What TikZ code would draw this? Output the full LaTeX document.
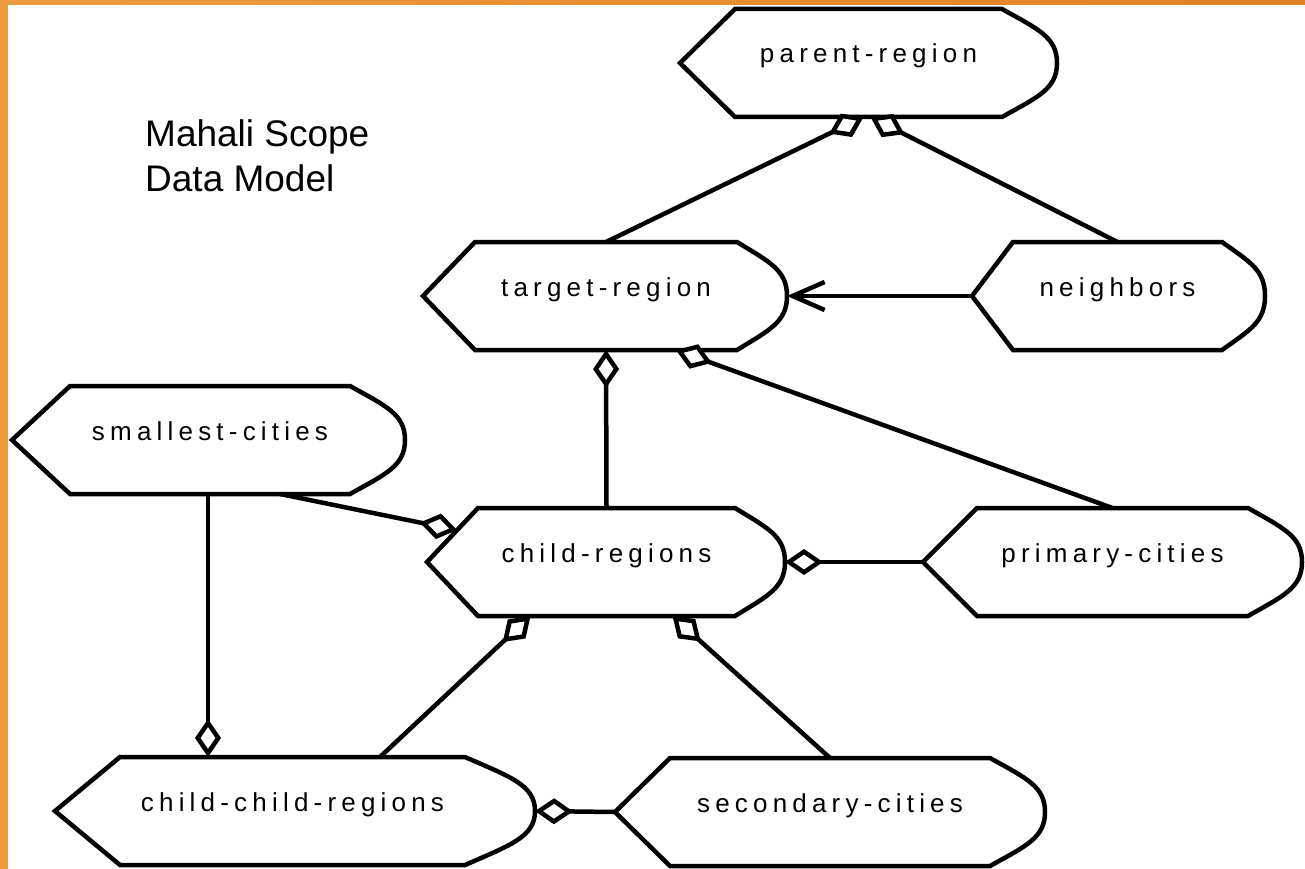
\documentclass[tikz,border=0pt]{standalone}
\usepackage{fontspec}
\setmainfont{Liberation Sans}
\newfontfamily\lblfont[LetterSpace=20]{Liberation Sans}
\usetikzlibrary{arrows.meta,calc}
\definecolor{orangeL}{RGB}{237,156,64}
\definecolor{orangeR}{RGB}{224,129,33}
\tikzset{
  outline/.style={draw=black, line width=4.5pt, line join=miter, fill=white},
  entbox/.style={draw=none, minimum height=108pt, inner sep=0pt, outer sep=0pt},
  lbl/.style={anchor=base, inner sep=0pt, font=\lblfont\fontsize{26}{31}\selectfont},
  conn/.style={draw=black, line width=4.5pt},
  agg/.style={conn, -{Diamond[length=38pt,width=26pt,fill=white]}},
  nav/.style={conn, -{Straight Barb[length=32pt,width=28pt]}},
  ttl/.style={anchor=base west, inner sep=0pt, font=\fontsize{37}{44}\selectfont}
}
% #1 name, #2 x left corner, #3 x right corner, #4 y centre, #5 left offset, #6 right offset, #7 text
\newcommand\mkentity[7]{%
  \node[entbox, minimum width={(#3-#2)*1pt}] (#1) at ({(#2+#3)/2},#4) {};
  \coordinate (#1-L) at ($(#1.west)+(-#5,0)$);
  \coordinate (#1-R) at ($(#1.east)+(#6,0)$);
  \draw[outline] (#1-L) -- (#1.north west) -- (#1.north east)
     .. controls +({0.65*#6},20) and +(0,-26) .. (#1-R)
     .. controls +(0,26) and +({0.65*#6},-20) .. (#1.south east)
     -- (#1.south west) -- cycle;
  \node[lbl] (#1-t) at (#1.center) {#7};
}
\begin{document}
\begin{tikzpicture}[x=1pt,y=-1pt]
\useasboundingbox (0,0) rectangle (1305,869);
\fill[white] (0,0) rectangle (1305,869);
\fill[orangeL] (0,0) rectangle (8,869);
\shade[left color=orangeL, right color=orangeR] (0,0) rectangle (1305,5);

\node[ttl] (t1) at (145,147) {Mahali Scope};
\node[ttl] (t2) at (145,192) {Data Model};

\mkentity{pr}{735}{1002}{63}{55}{55}{parent-region}
\mkentity{tr}{475}{737}{296}{52}{50}{target-region}
\mkentity{nb}{1013}{1222}{296}{41}{43}{neighbors}
\mkentity{sc}{70}{350}{440}{58}{55}{smallest-cities}
\mkentity{cr}{478}{735}{562}{51}{50}{child-regions}
\mkentity{pc}{977}{1248}{562}{54}{54}{primary-cities}
\mkentity{ccr}{120}{465}{811}{65}{70}{child-child-regions}
\mkentity{sec}{670}{990}{812}{55}{55}{secondary-cities}

\draw[agg] (tr.north) -- ($(pr.south)+(-5,0)$);
\draw[agg] (nb.north) -- ($(pr.south)+(2,0)$);
\draw[nav] (nb-L) -- (tr-R);
\draw[agg] (cr.north) -- (tr.south);
\draw[agg] (pc.north) -- ($(tr.south)+(70,0)$);
\draw[agg] ($(sc.south)+(70,0)$) -- ($(cr-L)!0.59!(cr.north west)$);
\draw[agg] (pc-L) -- (cr-R);
\draw[agg] ($(ccr.north)+(87.5,0)$) -- ($(cr.south)+(-76,0)$);
\draw[agg] (sec.north) -- ($(cr.south)+(66,0)$);
\draw[agg] ($(sc.south)+(-2,0)$) -- ($(ccr.north)+(-84.5,0)$);
\draw[agg] (sec-L) -- (ccr-R);
\end{tikzpicture}
\end{document}
